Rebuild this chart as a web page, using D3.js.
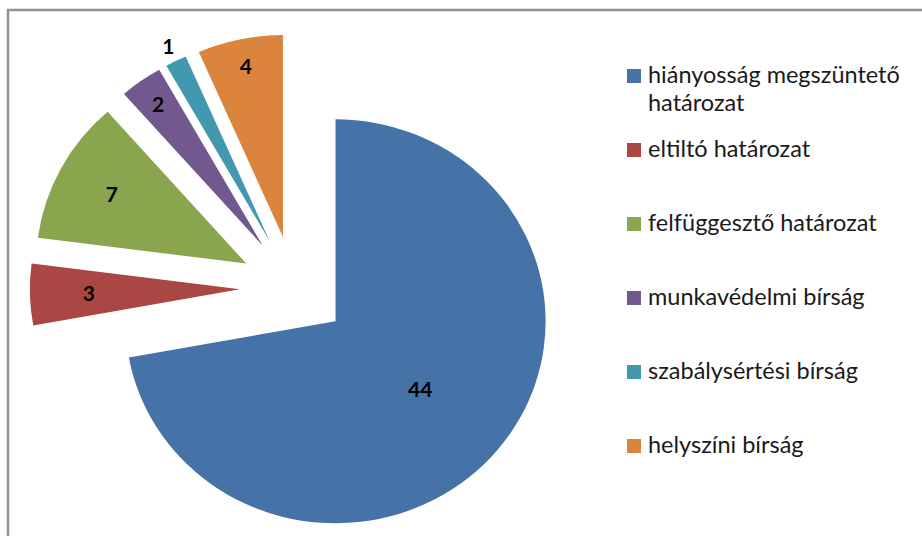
<!DOCTYPE html>
<head>
    <meta charset="utf-8">
    <style>
        body { margin: 0; background: #fff; }
        .frame { fill: none; stroke: #929292; stroke-width: 2.5px; }
        .slice-label { font-family: Lato, "Open Sans", sans-serif; font-weight: bold; font-size: 21px; fill: #000; }
        .legend-text { font-family: Lato, "Open Sans", sans-serif; font-size: 23.5px; fill: #1a1a1a; }
    </style>
</head>

<body>
    <script src="https://d3js.org/d3.v7.min.js"></script>

    <script>
        // chart data
        var categories = ["hiányosság megszüntető határozat", "eltiltó határozat", "felfüggesztő határozat",
                          "munkavédelmi bírság", "szabálysértési bírság", "helyszíni bírság"];
        var values = [44, 3, 7, 2, 1, 4];
        var colors = ["#4572A7", "#AA4643", "#89A54E", "#71588F", "#4198AF", "#DB843D"];

        // where each data label sits, as a fraction of the radius
        var labelRadius = [0.525, 0.72, 0.725, 0.86, 1.08, 0.865];

        var width = 922,
            height = 536,
            radius = 202,
            explode = 52,
            stretchX = 1.04;

        var svg = d3.select("body").append("svg")
            .attr("width", width)
            .attr("height", height);

        // outer frame (right and bottom sides fall outside the picture)
        svg.append("rect")
            .attr("class", "frame")
            .attr("x", 8)
            .attr("y", 10)
            .attr("width", 1000)
            .attr("height", 1000);

        var pie = d3.pie().sort(null).value(function(d) { return d; });
        var arcs = pie(values);

        var arc = d3.arc().innerRadius(0).outerRadius(radius);

        var g = svg.append("g")
            .attr("transform", "translate(294,288) scale(" + stretchX + ",1)");

        function midAngle(d) { return (d.startAngle + d.endAngle) / 2; }

        //every slice is pulled out along its middle angle
        var slices = g.selectAll(".slice")
            .data(arcs)
            .enter().append("g")
            .attr("class", "slice")
            .attr("transform", function(d) {
                var a = midAngle(d);
                return "translate(" + (Math.sin(a) * explode) + "," + (-Math.cos(a) * explode) + ")";
            });

        slices.append("path")
            .attr("d", arc)
            .style("fill", function(d, i) { return colors[i]; });

        //data labels, drawn unscaled so the digits are not stretched
        slices.append("text")
            .attr("class", "slice-label")
            .attr("text-anchor", "middle")
            .attr("dy", "0.36em")
            .attr("transform", function(d, i) {
                var a = midAngle(d), r = radius * labelRadius[i];
                return "translate(" + (Math.sin(a) * r) + "," + (-Math.cos(a) * r) + ") scale(" + (1 / stretchX) + ",1)";
            })
            .text(function(d) { return d.data; });

        //legend
        var legendY = d3.scalePoint()
            .domain(d3.range(categories.length))
            .range([83, 453]);

        var legend = svg.selectAll(".legend")
            .data(categories)
            .enter().append("g")
            .attr("class", "legend")
            .attr("transform", function(d, i) { return "translate(627," + legendY(i) + ")"; });

        legend.append("rect")
            .attr("y", -14)
            .attr("width", 14)
            .attr("height", 14)
            .style("fill", function(d, i) { return colors[i]; });

        legend.append("text")
            .attr("class", "legend-text")
            .attr("x", 21)
            .each(function(d, i) {
                var t = d3.select(this);
                // the first entry wraps onto two lines
                var lines = i === 0 ? ["hiányosság megszüntető", "határozat"] : [d];
                lines.forEach(function(line, k) {
                    t.append("tspan")
                        .attr("x", 21)
                        .attr("y", k * 28)
                        .text(line);
                });
            });
    </script>
</body>
